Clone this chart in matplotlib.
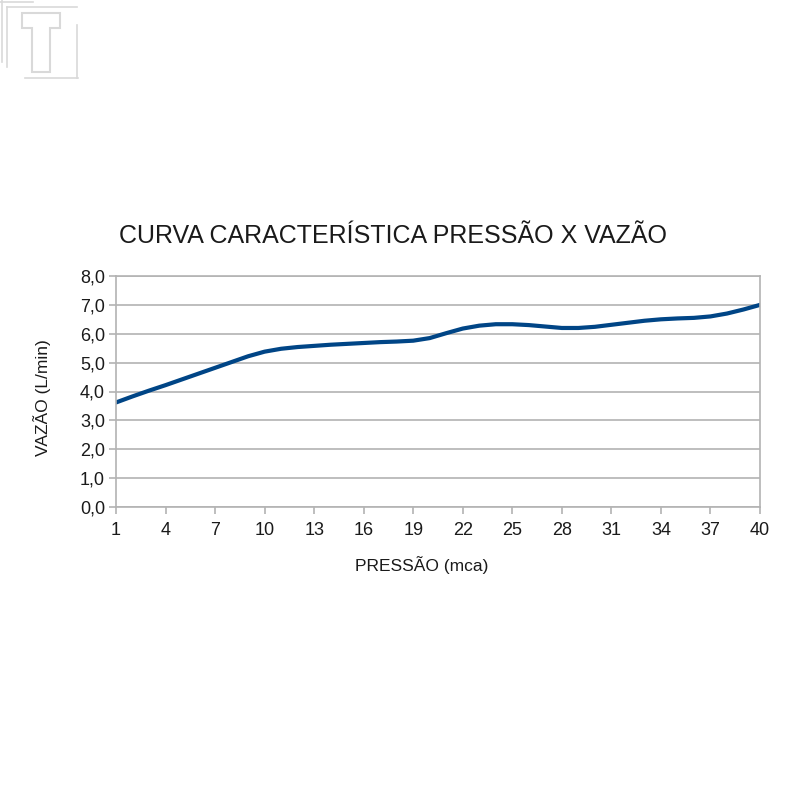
import matplotlib
matplotlib.use("Agg")
import matplotlib.pyplot as plt
from matplotlib.lines import Line2D
from matplotlib.patches import Polygon

plt.rcParams['font.family'] = ['Liberation Sans', 'DejaVu Sans']

pressao = list(range(1, 41))
vazao = [3.62, 3.83, 4.03, 4.22, 4.42, 4.62, 4.82, 5.02, 5.22, 5.38,
         5.48, 5.54, 5.58, 5.62, 5.65, 5.68, 5.71, 5.73, 5.76, 5.85,
         6.02, 6.18, 6.28, 6.33, 6.33, 6.30, 6.25, 6.20, 6.20, 6.24,
         6.31, 6.38, 6.45, 6.50, 6.53, 6.55, 6.60, 6.70, 6.84, 7.00]
x_ticks = list(range(1, 41, 3))
y_ticks = [0, 1, 2, 3, 4, 5, 6, 7, 8]
y_ticklabels = ["0,0", "1,0", "2,0", "3,0", "4,0", "5,0", "6,0", "7,0", "8,0"]

fig = plt.figure(figsize=(8, 8), dpi=100)
W = H = 800.0
ax = fig.add_axes([116 / W, 1 - 507 / H, (760 - 116) / W, (507 - 276) / H])

ax.plot(pressao, vazao, color="#004586", linewidth=3, solid_capstyle="round")
ax.set_xlim(1, 40)
ax.set_ylim(0, 8)
ax.set_xticks(x_ticks)
ax.set_xticklabels([str(t) for t in x_ticks], fontsize=13)
ax.set_yticks(y_ticks)
ax.set_yticklabels(y_ticklabels, fontsize=13)
ax.grid(axis="y", color="#b3b3b3", linewidth=1.2)
ax.set_axisbelow(True)
for s in ax.spines.values():
    s.set_color("#b3b3b3")
    s.set_linewidth(1.2)
ax.tick_params(axis="both", colors="#b3b3b3", labelcolor="#1a1a1a", length=5, width=1.2)
ax.tick_params(axis="x", pad=6)
ax.tick_params(axis="y", pad=3)

fig.text(393 / W, 1 - 236 / H, "CURVA CARACTERÍSTICA PRESSÃO X VAZÃO",
         ha="center", va="center", fontsize=18, color="#1a1a1a")
fig.text(422 / W, 1 - 565 / H, "PRESSÃO (mca)", ha="center", va="center",
         fontsize=12.5, color="#1a1a1a")
fig.text(42 / W, 1 - 398 / H, "VAZÃO (L/min)", ha="center", va="center",
         fontsize=12.5, rotation=90, color="#1a1a1a")

# watermark logo (light gray outlines)
gray = "#d9d9d9"
def fl(xs, ys):
    fig.add_artist(Line2D([x / W for x in xs], [1 - y / H for y in ys],
                          color=gray, linewidth=1.2, transform=fig.transFigure))
fl([0, 33], [2, 2])
fl([2, 2], [0, 62])
fl([7, 77], [7, 7])
fl([7, 7], [7, 67])
fl([77, 77], [25, 78])
fl([25, 78], [78, 78])
tpts = [(22, 13), (60, 13), (60, 28), (50, 28), (50, 72), (32, 72), (32, 28), (22, 28)]
fig.add_artist(Polygon([(x / W, 1 - y / H) for x, y in tpts], closed=True,
                       fill=False, edgecolor=gray, linewidth=1.5,
                       transform=fig.transFigure))

fig.savefig("out.png", dpi=100, facecolor="white")
